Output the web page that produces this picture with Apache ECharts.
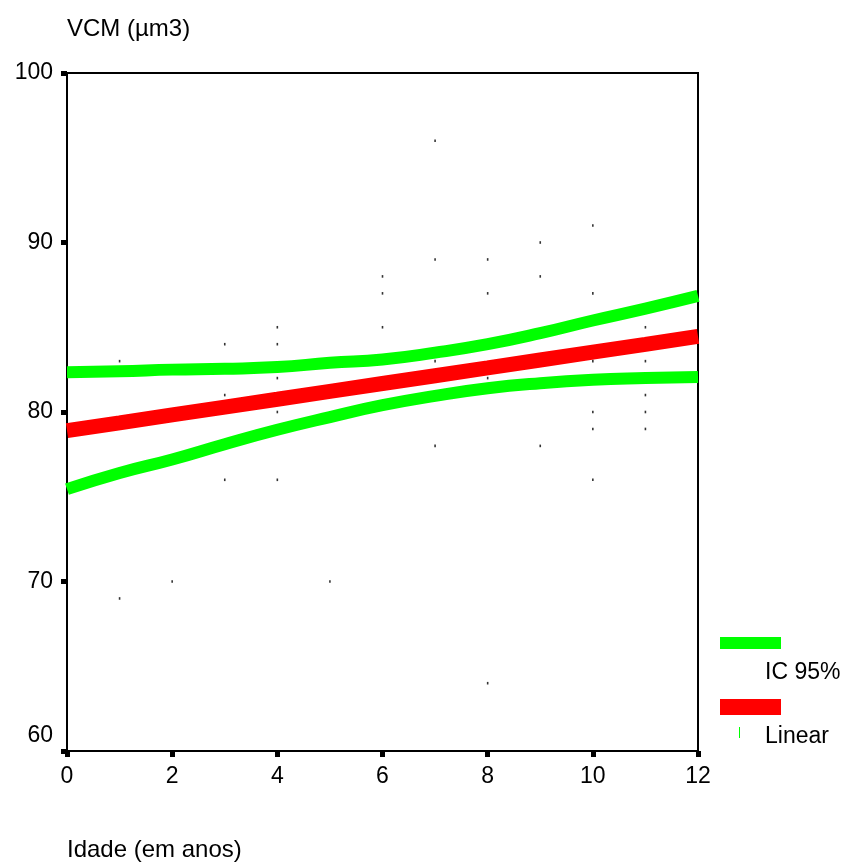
<!DOCTYPE html>
<html>
<head>
<meta charset="utf-8">
<script src="https://cdn.jsdelivr.net/npm/echarts@6/dist/echarts.min.js"></script>
<style>
html,body{margin:0;padding:0;background:#fff;}
#chart{width:846px;height:866px;}
</style>
</head>
<body>
<div id="chart"></div>
<script>
// Observed data points (age in years, VCM µm3)
const pointAges = [1,1,2,3,3,3,4,4,4,4,4,5,6,6,6,7,7,7,7,8,8,8,8,9,9,9,10,10,10,10,10,10,11,11,11,11,11];
const pointVCM  = [83,69,70,84,81,76,85,84,82,80,76,70,88,87,85,96,89,83,78,89,87,82,64,90,88,78,91,87,83,80,79,76,85,83,81,80,79];

// Fit lines
const lineAges   = [0,1,2,3,4,5,6,7,8,9,10,11,12];
const linearFit  = [78.9,79.36,79.83,80.29,80.75,81.22,81.68,82.14,82.6,83.07,83.53,83.99,84.46];
const ciUpper    = [82.35,82.4,82.5,82.55,82.65,82.9,83.1,83.5,84.0,84.65,85.4,86.1,86.85];
const ciLower    = [75.45,76.4,77.2,78.1,78.95,79.7,80.4,80.95,81.4,81.7,81.9,82.0,82.07];

const xTicks = [0,2,4,6,8,10,12];
const yTicks = [60,70,80,90,100];

const FONT = "'Liberation Sans', Arial, sans-serif";
const chart = echarts.init(document.getElementById('chart'));

const zip = (xs, ys) => xs.map((x, i) => [x, ys[i]]);

chart.setOption({
  animation: false,
  backgroundColor: '#fff',
  grid: {left: 67, right: 148, top: 73, bottom: 115, show: true, borderColor: '#000', borderWidth: 2, backgroundColor: 'transparent'},
  xAxis: {
    type: 'value', min: xTicks[0], max: xTicks[xTicks.length-1], interval: 2,
    axisLine: {show: true, lineStyle: {color: '#000', width: 2}},
    axisTick: {show: true, length: 6, lineStyle: {color: '#000', width: 5}},
    axisLabel: {color: '#000', fontSize: 23, fontFamily: FONT, margin: 14},
    splitLine: {show: false}
  },
  yAxis: {
    type: 'value', min: yTicks[0], max: yTicks[yTicks.length-1], interval: 10,
    axisLine: {show: true, lineStyle: {color: '#000', width: 2}},
    axisTick: {show: true, length: 6, lineStyle: {color: '#000', width: 5}},
    axisLabel: {
      color: '#000', fontSize: 23, fontFamily: FONT, margin: 14,
      formatter: v => v === 60 ? '{low|60}' : String(v),
      rich: {low: {fontSize: 23, fontFamily: FONT, color: '#000', padding: [0,0,30,0]}}
    },
    splitLine: {show: false}
  },
  graphic: [
    {type: 'text', left: 67, top: 17, style: {text: 'VCM (µm3)', font: "24px 'Liberation Sans', Arial, sans-serif", fill: '#000'}},
    {type: 'text', left: 67, top: 838, style: {text: 'Idade (em anos)', font: "24px 'Liberation Sans', Arial, sans-serif", fill: '#000'}},
    {type: 'rect', shape: {x: 720, y: 637, width: 61, height: 12}, style: {fill: '#00ff00'}},
    {type: 'text', left: 765, top: 661, style: {text: 'IC 95%', font: "23px 'Liberation Sans', Arial, sans-serif", fill: '#000'}},
    {type: 'rect', shape: {x: 720, y: 699, width: 61, height: 16}, style: {fill: '#ff0000'}},
    {type: 'rect', shape: {x: 739, y: 727, width: 1, height: 11}, style: {fill: '#00ff00'}},
    {type: 'text', left: 765, top: 725, style: {text: 'Linear', font: "23px 'Liberation Sans', Arial, sans-serif", fill: '#000'}}
  ],
  series: [
    {type: 'scatter', data: zip(pointAges, pointVCM), symbol: 'rect', symbolSize: [1.6, 2.6], itemStyle: {color: '#000'}, z: 1},
    {type: 'line', data: zip(lineAges, ciUpper), showSymbol: false, smooth: true, lineStyle: {color: '#00ff00', width: 12, cap: 'butt'}, z: 2},
    {type: 'line', data: zip(lineAges, ciLower), showSymbol: false, smooth: true, lineStyle: {color: '#00ff00', width: 12, cap: 'butt'}, z: 2},
    {type: 'line', data: zip(lineAges, linearFit), showSymbol: false, lineStyle: {color: '#ff0000', width: 15, cap: 'butt'}, z: 3}
  ]
});
</script>
</body>
</html>
